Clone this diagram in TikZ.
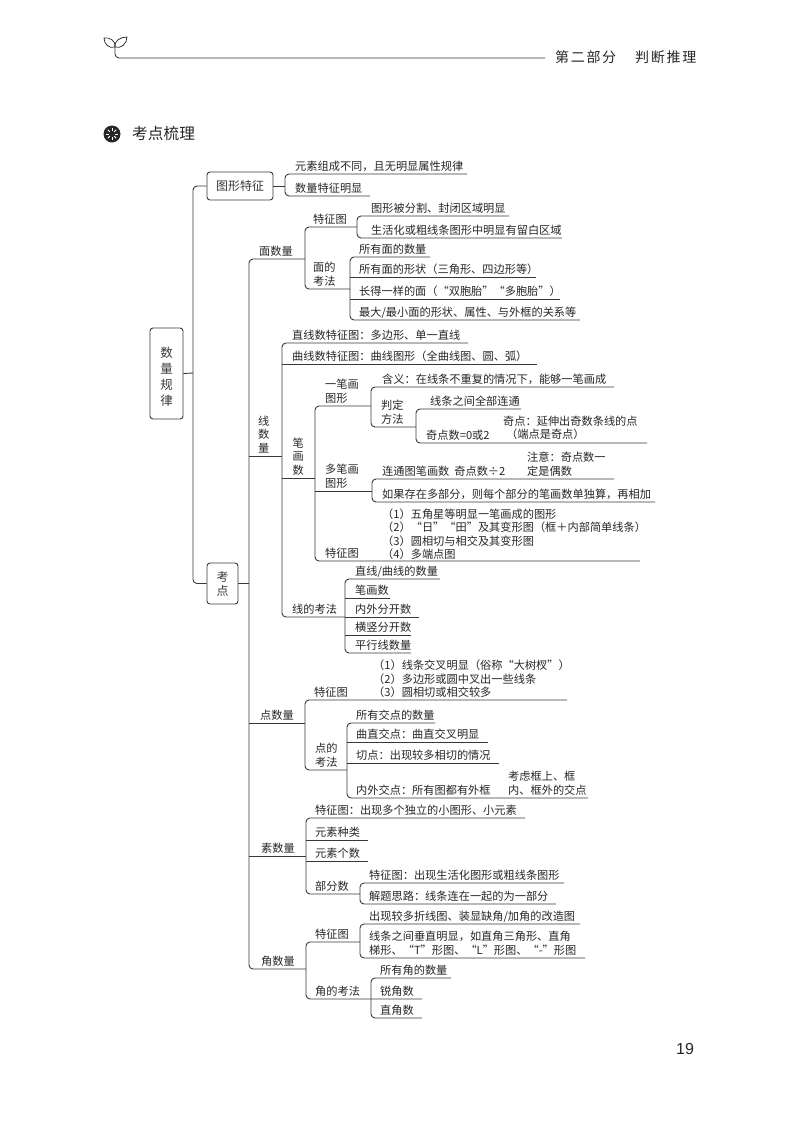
\documentclass[tikz,border=0pt]{standalone}
\usepackage{fontspec}
\setmainfont{Noto Sans CJK SC}
\newfontfamily\headfont[LetterSpace=12]{Noto Sans CJK SC}
\newfontfamily\numfont{Liberation Sans}
\usetikzlibrary{calc}

\tikzset{
  line/.style={line width=0.9pt,black!78,rounded corners=4pt},
  lab/.style={anchor=south west,inner sep=0pt,text depth=0pt,yshift=3.6pt,align=left,
    font=\fontsize{11.2}{13.5}\selectfont,black!85},
  free/.style={anchor=west,inner sep=0pt,align=left,
    font=\fontsize{11.2}{13.5}\selectfont,black!85},
  boxnode/.style={draw,line width=0.9pt,black!78,rounded corners=3pt,inner sep=0pt,align=center}
}

% name, line start, line end, line y, text x, text
\newcommand{\leaf}[6]{
  \coordinate (#1-l) at (#2,#4);
  \coordinate (#1-r) at (#3,#4);
  \node[lab] (#1) at (#5,#4) {#6};
}
\newcommand{\tick}[1]{\draw[line] (#1-l)--(#1-r);}
\newcommand{\fork}[2]{\draw[line] (#1-r)--(#1-l)--(#2-l)--(#2-r);}

\begin{document}
\begin{tikzpicture}[x=1pt,y=-1pt]
\useasboundingbox (0,0) rectangle (800,1138);

% page head
\coordinate (stem) at (115,47);
\coordinate (headend) at (545,58);
\draw[line] (stem)--(115,58)--(headend);
\draw[line width=0.7pt,black!85] (stem) .. controls (109,49) and (104,44) .. (104,38) .. controls (110,37) and (116,41) .. (stem);
\draw[line width=0.7pt,black!85] (stem) .. controls (121,49) and (127,44) .. (127,37) .. controls (120,37) and (114,41) .. (stem);
\node[anchor=west,inner sep=0pt,font=\headfont\fontsize{14}{14}\selectfont,black!85] (head) at (555,57) {第二部分\hspace{19pt}判断推理};

\fill[black!85] (112,134) circle (8.5);
\foreach \a in {0,45,...,315}
  \draw[white,line width=0.8pt] ($(112,134)+(\a:3)$)--($(112,134)+(\a:6)$);
\node[anchor=west,inner sep=0pt,font=\fontsize{15.7}{16}\selectfont,black!85] (title) at (132,134) {考点梳理};
\node[inner sep=0pt,font=\numfont\fontsize{16}{16}\selectfont,black!85] (pageno) at (685,1049) {19};

% left boxes
\node[boxnode,minimum width=33pt,minimum height=91pt,font=\fontsize{12.5}{16}\selectfont] (root) at (166.5,373.5) {\rule{0pt}{16pt}数\\量\\规\\律};
\node[boxnode,minimum width=66pt,minimum height=28pt,font=\fontsize{12}{14}\selectfont] (tuxing) at (240,186) {图形特征};
\node[boxnode,minimum width=31pt,minimum height=41pt,font=\fontsize{12}{14}\selectfont] (kaodian) at (222.5,583.5) {考\\点};
\coordinate (spa) at (193,373);
\draw[line] (root.east)--(spa);
\draw[line] (tuxing.west) -| (spa) |- (kaodian.west);

% figure features
\leaf{ta}{285}{467}{174}{295}{元素组成不同，且无明显属性规律}
\leaf{tb}{285}{370}{196}{295}{数量特征明显}
\fork{ta}{tb}
\draw[line] (tuxing.east)--(tuxing.east -| ta-l);

% main branches
\leaf{mian}{249}{305}{259}{259}{面数量}
\leaf{xian}{249}{282}{456}{258}{线\\数\\量}
\leaf{dian}{249}{305}{723}{260}{点数量}
\leaf{su}{249}{306}{856}{261}{素数量}
\leaf{jiao}{249}{306}{969}{261}{角数量}
\fork{mian}{jiao}
\tick{xian} \tick{dian} \tick{su}
\draw[line] (kaodian.east)--(kaodian.east -| mian-l);

% faces
\leaf{mt}{305}{357}{227}{313}{特征图}
\leaf{mk}{305}{350}{289}{313}{面的\\考法}
\fork{mt}{mk}
\leaf{mta}{357}{509}{216}{371}{图形被分割、封闭区域明显}
\leaf{mtb}{357}{562}{238}{371}{生活化或粗线条图形中明显有留白区域}
\fork{mta}{mtb}
\leaf{mka}{350}{430}{257}{359}{所有面的数量}
\leaf{mkb}{350}{536}{277}{359}{所有面的形状（三角形、四边形等）}
\leaf{mkc}{350}{560}{299}{359}{长得一样的面（“双胞胎”“多胞胎”）}
\leaf{mkd}{350}{580}{320}{359}{最大/最小面的形状、属性、与外框的关系等}
\fork{mka}{mkd}
\tick{mkb} \tick{mkc}

% lines
\leaf{xa}{282}{468}{343}{292}{直线数特征图：多边形、单一直线}
\leaf{xb}{282}{537}{364}{292}{曲线数特征图：曲线图形（全曲线图、圆、弧）}
\leaf{xc}{282}{315}{478}{292.5}{笔\\画\\数}
\leaf{xd}{282}{345}{617}{292}{线的考法}
\fork{xa}{xd}
\tick{xb} \tick{xc}

% strokes
\leaf{ya}{315}{371}{406}{325}{一笔画\\图形}
\leaf{yb}{315}{372}{491}{325}{多笔画\\图形}
\leaf{yc}{315}{640}{561}{325}{特征图}
\fork{ya}{yc}
\tick{yb}
\leaf{yaa}{371}{614}{387}{382}{含义：在线条不重复的情况下，能够一笔画成}
\leaf{yab}{371}{416}{427}{381}{判定\\方法}
\fork{yaa}{yab}
\leaf{yac}{416}{521}{409}{430}{线条之间全部连通}
\leaf{yad}{416}{647}{443}{426}{奇点数=0或2}
\fork{yac}{yad}
\node[free] (yae) at (503,428) {奇点：延伸出奇数条线的点\\\hspace{3pt}（端点是奇点）};
\leaf{yba}{372}{614}{479}{382}{连通图笔画数\hspace{5pt}奇点数÷2}
\leaf{ybb}{372}{655}{502}{382}{如果存在多部分，则每个部分的笔画数单独算，再相加}
\fork{yba}{ybb}
\node[free] (ybc) at (527,464) {注意：奇点数一\\定是偶数};
\node[free] (yca) at (382,534) {（1）五角星等明显一笔画成的图形\\（2）“日”“田”及其变形图（框＋内部简单线条）\\（3）圆相切与相交及其变形图\\（4）多端点图};

% line test
\leaf{za}{345}{440}{579}{355}{直线/曲线的数量}
\leaf{zb}{345}{390}{598}{355}{笔画数}
\leaf{zc}{345}{419}{617}{355}{内外分开数}
\leaf{zd}{345}{411}{635}{355}{横竖分开数}
\leaf{ze}{345}{411}{653}{355}{平行线数量}
\fork{za}{ze}
\tick{zb} \tick{zc} \tick{zd}

% points
\leaf{da}{305}{567}{700}{314}{特征图}
\leaf{db}{305}{347}{770}{315}{点的\\考法}
\fork{da}{db}
\node[free] (dc) at (373,679) {（1）线条交叉明显（俗称“大树杈”）\\（2）多边形或圆中叉出一些线条\\（3）圆相切或相交较多};
\leaf{dba}{347}{435}{723}{356}{所有交点的数量}
\leaf{dbb}{347}{488}{742}{356}{曲直交点：曲直交叉明显}
\leaf{dbc}{347}{499}{763}{356}{切点：出现较多相切的情况}
\leaf{dbd}{347}{588}{798}{356}{内外交点：所有图都有外框}
\fork{dba}{dbd}
\tick{dbb} \tick{dbc}
\node[free] (dbe) at (508,783) {考虑框上、框\\内、框外的交点};

% elements
\leaf{sa}{306}{525}{818}{315}{特征图：出现多个独立的小图形、小元素}
\leaf{sb}{306}{368}{840}{315}{元素种类}
\leaf{sc}{306}{368}{861}{315}{元素个数}
\leaf{sd}{306}{360}{894}{315}{部分数}
\fork{sa}{sd}
\tick{sb} \tick{sc}
\leaf{sda}{360}{564}{883}{369}{特征图：出现生活化图形或粗线条图形}
\leaf{sdb}{360}{556}{904}{369}{解题思路：线条连在一起的为一部分}
\fork{sda}{sdb}

% angles
\leaf{ja}{306}{360}{942}{315}{特征图}
\leaf{jb}{306}{422}{999}{315}{角的考法}
\fork{ja}{jb}
\leaf{jaa}{360}{580}{924}{369}{出现较多折线图、装显缺角/加角的改造图}
\leaf{jab}{360}{585}{958}{369}{线条之间垂直明显，如直角三角形、直角\\梯形、“T”形图、“L”形图、“-”形图}
\fork{jaa}{jab}
\leaf{jba}{371}{451}{978}{380}{所有角的数量}
\leaf{jbb}{371}{422}{999}{380}{锐角数}
\leaf{jbc}{371}{422}{1018}{380}{直角数}
\fork{jba}{jbc}

\end{tikzpicture}
\end{document}
